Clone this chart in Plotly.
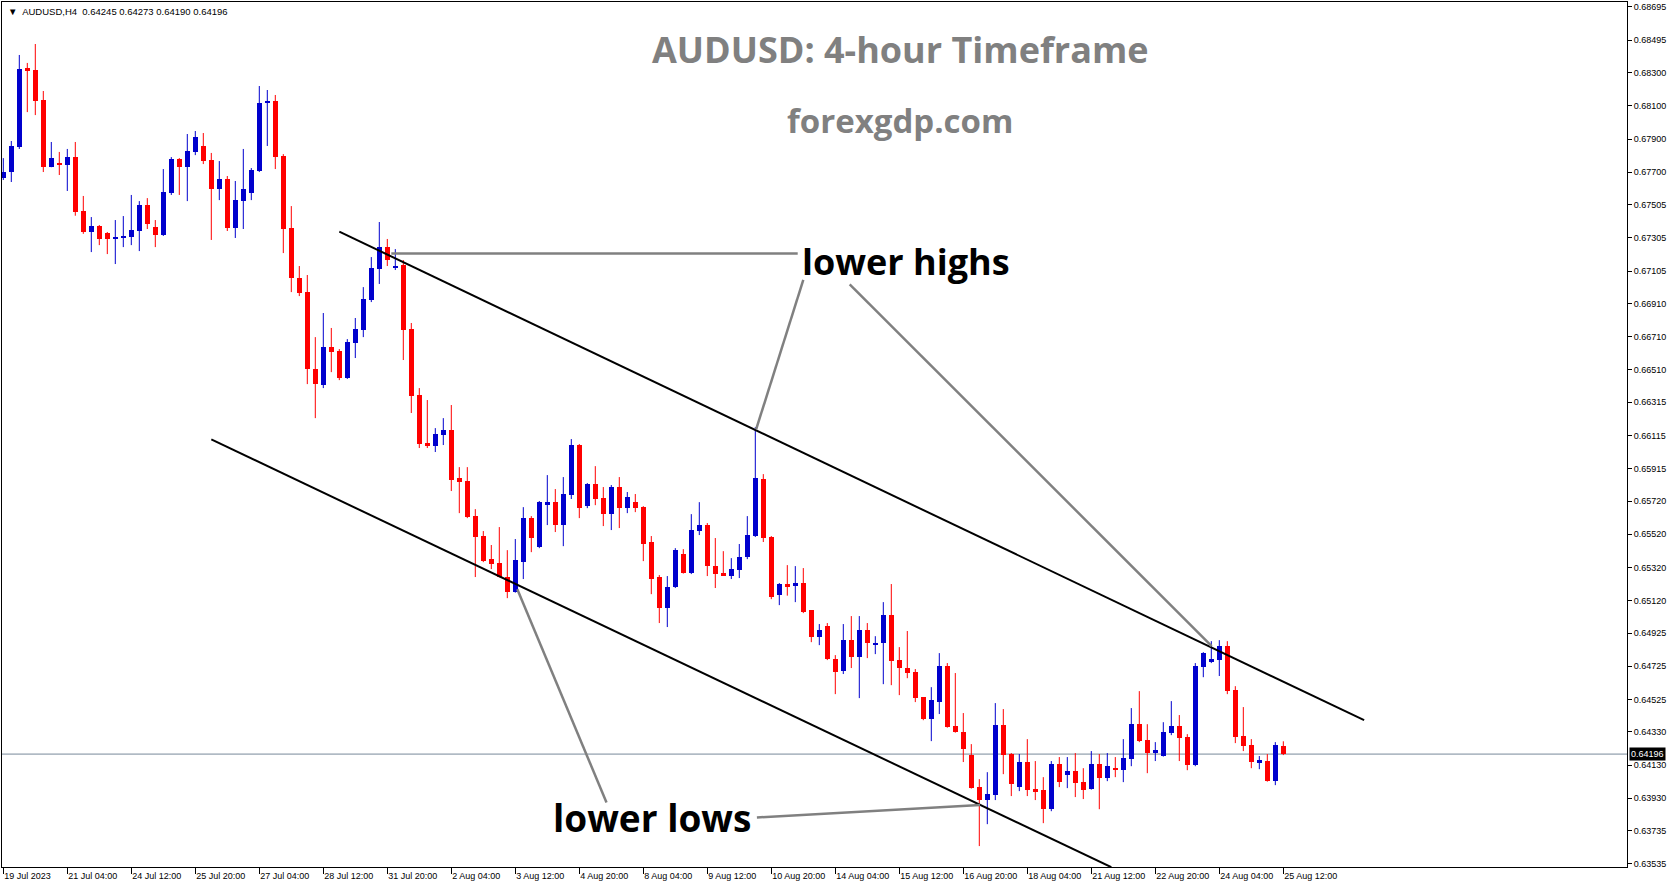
import plotly.graph_objects as go

# ---------------- data (AUDUSD H4) ----------------
OPEN = [0.67667, 0.67701, 0.67852, 0.68327, 0.68315, 0.68135, 0.67733, 0.67755, 0.67745, 0.67791,
        0.67466, 0.67340, 0.67376, 0.67334, 0.67298, 0.67305, 0.67310, 0.67346, 0.67502, 0.67370,
        0.67322, 0.67575, 0.67779, 0.67731, 0.67822, 0.67858, 0.67773, 0.67599, 0.67659, 0.67364,
        0.67526, 0.67575, 0.67707, 0.68117, 0.68129, 0.67797, 0.67364, 0.67063, 0.66978, 0.66515,
        0.66418, 0.66647, 0.66623, 0.66460, 0.66671, 0.66749, 0.66930, 0.67117, 0.67249, 0.67129,
        0.67141, 0.66755, 0.66358, 0.66069, 0.66051, 0.66117, 0.66147, 0.65858, 0.65840, 0.65629,
        0.65509, 0.65370, 0.65346, 0.65262, 0.65171, 0.65352, 0.65617, 0.65442, 0.65701, 0.65713,
        0.65575, 0.65756, 0.66057, 0.65689, 0.65822, 0.65738, 0.65641, 0.65804, 0.65677, 0.65713,
        0.65683, 0.65473, 0.65262, 0.65075, 0.65202, 0.65400, 0.65286, 0.65539, 0.65575, 0.65328,
        0.65286, 0.65268, 0.65304, 0.65382, 0.65509, 0.65852, 0.65503, 0.65153, 0.65220, 0.65208,
        0.65226, 0.65063, 0.64900, 0.64967, 0.64768, 0.64696, 0.64882, 0.64780, 0.64943, 0.64858,
        0.64864, 0.65033, 0.64762, 0.64714, 0.64690, 0.64539, 0.64407, 0.64509, 0.64726, 0.64364,
        0.64328, 0.64190, 0.63997, 0.63919, 0.63949, 0.64370, 0.64196, 0.63997, 0.64148, 0.63985,
        0.63979, 0.63864, 0.64135, 0.64069, 0.64093, 0.64027, 0.63985, 0.64135, 0.64051, 0.64111,
        0.64099, 0.64166, 0.64376, 0.64280, 0.64202, 0.64184, 0.64322, 0.64364, 0.64298, 0.64129,
        0.64720, 0.64750, 0.64762, 0.64846, 0.64581, 0.64304, 0.64250, 0.64148, 0.64154, 0.64033,
        0.64245]
HIGH = [0.67785, 0.67888, 0.68406, 0.68358, 0.68472, 0.68189, 0.67882, 0.67822, 0.67840, 0.67882,
        0.67557, 0.67430, 0.67382, 0.67340, 0.67412, 0.67436, 0.67563, 0.67526, 0.67544, 0.67412,
        0.67719, 0.67791, 0.67785, 0.67930, 0.67948, 0.67936, 0.67816, 0.67767, 0.67677, 0.67647,
        0.67840, 0.67725, 0.68219, 0.68195, 0.68165, 0.67809, 0.67496, 0.67135, 0.67081, 0.66707,
        0.66852, 0.66762, 0.66635, 0.66695, 0.66822, 0.67008, 0.67189, 0.67400, 0.67298, 0.67237,
        0.67171, 0.66792, 0.66400, 0.66328, 0.66159, 0.66219, 0.66298, 0.65924, 0.65924, 0.65671,
        0.65539, 0.65455, 0.65563, 0.65424, 0.65491, 0.65683, 0.65629, 0.65720, 0.65876, 0.65792,
        0.65864, 0.66093, 0.66063, 0.65828, 0.65930, 0.65804, 0.65816, 0.65864, 0.65774, 0.65762,
        0.65689, 0.65509, 0.65274, 0.65268, 0.65436, 0.65430, 0.65641, 0.65713, 0.65587, 0.65497,
        0.65418, 0.65376, 0.65461, 0.65629, 0.66165, 0.65882, 0.65509, 0.65226, 0.65334, 0.65328,
        0.65316, 0.65063, 0.64979, 0.64985, 0.64792, 0.64979, 0.65027, 0.65027, 0.64985, 0.64906,
        0.65111, 0.65220, 0.64840, 0.64937, 0.64708, 0.64539, 0.64599, 0.64804, 0.64744, 0.64684,
        0.64443, 0.64256, 0.64045, 0.64087, 0.64503, 0.64467, 0.64202, 0.64196, 0.64286, 0.64154,
        0.64057, 0.64154, 0.64178, 0.64178, 0.64202, 0.64111, 0.64214, 0.64196, 0.64202, 0.64178,
        0.64286, 0.64473, 0.64575, 0.64376, 0.64268, 0.64388, 0.64515, 0.64431, 0.64316, 0.64744,
        0.64810, 0.64876, 0.64882, 0.64876, 0.64605, 0.64479, 0.64286, 0.64184, 0.64196, 0.64268,
        0.64273]
LOW = [0.67653, 0.67641, 0.67840, 0.68062, 0.68044, 0.67701, 0.67730, 0.67683, 0.67587, 0.67438,
       0.67329, 0.67219, 0.67261, 0.67207, 0.67147, 0.67249, 0.67261, 0.67225, 0.67358, 0.67249,
       0.67316, 0.67563, 0.67563, 0.67526, 0.67803, 0.67749, 0.67292, 0.67532, 0.67346, 0.67304,
       0.67358, 0.67532, 0.67701, 0.67858, 0.67719, 0.67213, 0.66978, 0.66954, 0.66424, 0.66219,
       0.66400, 0.66496, 0.66448, 0.66455, 0.66581, 0.66707, 0.66918, 0.67027, 0.67135, 0.67111,
       0.66569, 0.66250, 0.66039, 0.66039, 0.66015, 0.66057, 0.65780, 0.65647, 0.65617, 0.65262,
       0.65352, 0.65310, 0.65260, 0.65135, 0.65168, 0.65250, 0.65412, 0.65436, 0.65575, 0.65533,
       0.65448, 0.65732, 0.65617, 0.65677, 0.65695, 0.65569, 0.65545, 0.65557, 0.65647, 0.65653,
       0.65358, 0.65159, 0.64985, 0.64961, 0.65196, 0.65283, 0.65280, 0.65515, 0.65268, 0.65196,
       0.65272, 0.65250, 0.65256, 0.65370, 0.65503, 0.65473, 0.65129, 0.65093, 0.65150, 0.65111,
       0.65045, 0.64870, 0.64852, 0.64762, 0.64557, 0.64678, 0.64714, 0.64533, 0.64774, 0.64798,
       0.64617, 0.64611, 0.64551, 0.64653, 0.64509, 0.64400, 0.64274, 0.64437, 0.64355, 0.64325,
       0.64148, 0.63988, 0.63642, 0.63774, 0.63919, 0.64075, 0.63943, 0.63973, 0.63943, 0.63919,
       0.63780, 0.63852, 0.63997, 0.63991, 0.63937, 0.63925, 0.63982, 0.63864, 0.64033, 0.64057,
       0.64027, 0.64123, 0.64268, 0.64081, 0.64154, 0.64181, 0.64310, 0.64154, 0.64099, 0.64123,
       0.64659, 0.64744, 0.64666, 0.64557, 0.64262, 0.64214, 0.64111, 0.64105, 0.64030, 0.64009,
       0.64190]
CLOSE = [0.67699, 0.67858, 0.68321, 0.68311, 0.68131, 0.67733, 0.67785, 0.67745, 0.67791, 0.67462,
         0.67340, 0.67376, 0.67298, 0.67298, 0.67310, 0.67316, 0.67352, 0.67502, 0.67388, 0.67322,
         0.67581, 0.67779, 0.67731, 0.67828, 0.67912, 0.67767, 0.67599, 0.67659, 0.67364, 0.67532,
         0.67599, 0.67713, 0.68117, 0.68129, 0.67791, 0.67358, 0.67063, 0.66972, 0.66515, 0.66424,
         0.66647, 0.66617, 0.66460, 0.66677, 0.66755, 0.66936, 0.67123, 0.67249, 0.67171, 0.67135,
         0.66749, 0.66352, 0.66063, 0.66057, 0.66123, 0.66147, 0.65846, 0.65834, 0.65623, 0.65503,
         0.65358, 0.65340, 0.65262, 0.65171, 0.65364, 0.65617, 0.65497, 0.65713, 0.65713, 0.65575,
         0.65762, 0.66057, 0.65677, 0.65822, 0.65732, 0.65641, 0.65804, 0.65677, 0.65744, 0.65677,
         0.65461, 0.65250, 0.65075, 0.65202, 0.65424, 0.65286, 0.65545, 0.65575, 0.65328, 0.65280,
         0.65274, 0.65310, 0.65382, 0.65515, 0.65858, 0.65497, 0.65141, 0.65220, 0.65208, 0.65226,
         0.65051, 0.64900, 0.64943, 0.64768, 0.64690, 0.64882, 0.64780, 0.64943, 0.64864, 0.64864,
         0.65033, 0.64756, 0.64714, 0.64684, 0.64533, 0.64407, 0.64521, 0.64726, 0.64358, 0.64328,
         0.64226, 0.63991, 0.63919, 0.63955, 0.64370, 0.64190, 0.64015, 0.64148, 0.63979, 0.63973,
         0.63864, 0.64135, 0.64027, 0.64093, 0.64021, 0.63979, 0.64135, 0.64051, 0.64123, 0.64105,
         0.64172, 0.64376, 0.64274, 0.64202, 0.64220, 0.64328, 0.64364, 0.64292, 0.64129, 0.64726,
         0.64804, 0.64768, 0.64846, 0.64575, 0.64298, 0.64244, 0.64148, 0.64160, 0.64033, 0.64250,
         0.64196]

X_TICK_BARS = [0, 8, 16, 24, 32, 40, 48, 56, 64, 72, 80, 88, 96, 104, 112, 120, 128, 136, 144, 152, 160]
X_TICK_LABELS = ["19 Jul 2023", "21 Jul 04:00", "24 Jul 12:00", "25 Jul 20:00", "27 Jul 04:00",
                 "28 Jul 12:00", "31 Jul 20:00", "2 Aug 04:00", "3 Aug 12:00", "4 Aug 20:00",
                 "8 Aug 04:00", "9 Aug 12:00", "10 Aug 20:00", "14 Aug 04:00", "15 Aug 12:00",
                 "16 Aug 20:00", "18 Aug 04:00", "21 Aug 12:00", "22 Aug 20:00", "24 Aug 04:00",
                 "25 Aug 12:00"]
Y_TICKS = [0.68695, 0.68495, 0.68300, 0.68100, 0.67900, 0.67700, 0.67505, 0.67305, 0.67105,
           0.66910, 0.66710, 0.66510, 0.66315, 0.66115, 0.65915, 0.65720, 0.65520, 0.65320,
           0.65120, 0.64925, 0.64725, 0.64525, 0.64330, 0.64130, 0.63930, 0.63735, 0.63535]
CURRENT_PRICE = 0.64196
HEADER = "AUDUSD,H4  0.64245 0.64273 0.64190 0.64196"

# channel lines (bar index, price)
UPPER_X = [42.0, 170.1]
UPPER_Y = [0.67342, 0.64400]
LOWER_X = [26.0, 138.5]
LOWER_Y = [0.66091, 0.63515]
# pointer lines
HIGH_PTR1_X = [48.5, 99.3]
HIGH_PTR1_Y = [0.67211, 0.67211]
HIGH_PTR2_X = [100.0, 94.1]
HIGH_PTR2_Y = [0.67051, 0.66151]
HIGH_PTR3_X = [105.8, 151.05]
HIGH_PTR3_Y = [0.67025, 0.64846]
LOW_PTR1_X = [75.4, 64.25]
LOW_PTR1_Y = [0.63905, 0.65188]
LOW_PTR2_X = [94.2, 122.1]
LOW_PTR2_Y = [0.63814, 0.63889]

# ---------------- figure ----------------
UP = "#0000CD"
DOWN = "#FF0000"
W, H = 1673, 888
ML, MR, MT, MB = 2, 46, 2, 21
PW, PH = W - ML - MR, H - MT - MB


def px(xpix):
    return (xpix - ML) / PW


def py(ypix):
    return (H - MB - ypix) / PH


idx = list(range(len(OPEN)))
min_body = 0.00005
bases, heights, colors = [], [], []
for o, c in zip(OPEN, CLOSE):
    lo, hi = min(o, c), max(o, c)
    h = hi - lo
    if h < min_body:
        lo = (lo + hi) / 2 - min_body / 2
        h = min_body
    bases.append(lo)
    heights.append(h)
    colors.append(UP if c >= o else DOWN)

fig = go.Figure()

for col in (UP, DOWN):
    wx, wy = [], []
    for i in idx:
        if colors[i] == col:
            wx += [i, i, None]
            wy += [LOW[i], HIGH[i], None]
    fig.add_trace(go.Scatter(x=wx, y=wy, mode="lines", line=dict(color=col, width=1),
                             hoverinfo="skip", showlegend=False))

fig.add_trace(go.Bar(x=idx, y=heights, base=bases, width=0.625,
                     marker=dict(color=colors, line=dict(width=0)),
                     showlegend=False, hoverinfo="skip"))

shapes = []
shapes.append(dict(type="line", xref="paper", yref="y", x0=0, x1=1,
                   y0=CURRENT_PRICE, y1=CURRENT_PRICE, line=dict(color="#778899", width=1), layer="below"))
for xs, ys in [(UPPER_X, UPPER_Y), (LOWER_X, LOWER_Y)]:
    shapes.append(dict(type="line", xref="x", yref="y", x0=xs[0], x1=xs[1], y0=ys[0], y1=ys[1],
                       line=dict(color="black", width=2)))
for xs, ys in [(HIGH_PTR1_X, HIGH_PTR1_Y), (HIGH_PTR2_X, HIGH_PTR2_Y), (HIGH_PTR3_X, HIGH_PTR3_Y),
               (LOW_PTR1_X, LOW_PTR1_Y), (LOW_PTR2_X, LOW_PTR2_Y)]:
    shapes.append(dict(type="line", xref="x", yref="y", x0=xs[0], x1=xs[1], y0=ys[0], y1=ys[1],
                       line=dict(color="#808080", width=2.5)))

annotations = [
    dict(text="AUDUSD: 4-hour Timeframe", xref="paper", yref="paper", x=px(900), y=py(50),
         xanchor="center", yanchor="middle", showarrow=False,
         font=dict(family="Open Sans", size=36, color="#808080", weight="bold")),
    dict(text="forexgdp.com", xref="paper", yref="paper", x=px(900), y=py(120),
         xanchor="center", yanchor="middle", showarrow=False,
         font=dict(family="Open Sans", size=33, color="#808080", weight="bold")),
    dict(text="lower highs", xref="paper", yref="paper", x=px(906), y=py(262),
         xanchor="center", yanchor="middle", showarrow=False,
         font=dict(family="Open Sans", size=36, color="black", weight="bold")),
    dict(text="lower lows", xref="paper", yref="paper", x=px(652), y=py(817),
         xanchor="center", yanchor="middle", showarrow=False,
         font=dict(family="Open Sans", size=37, color="black", weight="bold")),
    dict(text="▼  " + HEADER, xref="paper", yref="paper", x=px(6), y=py(11),
         xanchor="left", yanchor="middle", showarrow=False,
         font=dict(family="Liberation Sans", size=9.5, color="black")),
    dict(text="%.5f" % CURRENT_PRICE, xref="paper", yref="y", x=px(1629), y=CURRENT_PRICE,
         xanchor="left", yanchor="middle", showarrow=False, bgcolor="black", borderpad=1,
         font=dict(family="Liberation Sans", size=9, color="white")),
]

fig.update_layout(
    width=W, height=H,
    margin=dict(l=ML, r=MR, t=MT, b=MB, pad=0),
    paper_bgcolor="white", plot_bgcolor="white",
    shapes=shapes, annotations=annotations,
    bargap=0, showlegend=False,
    xaxis=dict(range=[-0.1625, 202.96], tickmode="array", tickvals=X_TICK_BARS, ticktext=X_TICK_LABELS,
               ticks="outside", ticklen=6, tickcolor="black", showgrid=False, zeroline=False,
               showline=True, linecolor="black", linewidth=1, mirror=True,
               ticklabelposition="outside right",
               tickfont=dict(family="Liberation Sans", size=9, color="black")),
    yaxis=dict(range=[0.63516, 0.68725], side="right", tickmode="array", tickvals=Y_TICKS,
               ticktext=["%.5f" % v for v in Y_TICKS],
               ticks="outside", ticklen=4, tickcolor="black", showgrid=False, zeroline=False,
               showline=True, linecolor="black", linewidth=1, mirror=True,
               tickfont=dict(family="Liberation Sans", size=9, color="black")),
)

fig.write_html("out.html", config={"displayModeBar": False},
               post_script="document.body.style.margin='0';document.body.style.overflow='hidden';")
